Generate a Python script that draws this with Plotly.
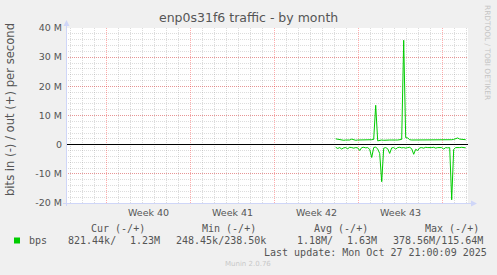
import plotly.graph_objects as go

# ---------------- data ----------------
title_text = "enp0s31f6 traffic - by month"
y_title = "bits in (-) / out (+) per second"

# samples every 4 hours, starting at day 22.45 of the 33.3-day window
start_day = 22.45
step_hours = 4

out_mbps = [2.0, 1.9, 1.6, 1.6, 1.5, 1.6, 1.5, 1.6, 1.9, 1.6,
            1.5, 1.6, 1.6, 1.5, 1.6, 1.5, 1.6, 1.6, 1.7, 1.8,
            13.5, 1.3, 1.5, 1.6, 1.5, 1.6, 1.5, 1.6, 1.6, 1.5,
            1.6, 1.6, 1.7, 1.8, 35.8, 2.4, 2.3, 1.7, 1.6, 1.6,
            1.5, 1.6, 1.6, 1.5, 1.6, 1.5, 1.6, 1.6, 1.5, 1.6,
            1.6, 1.5, 1.6, 1.6, 1.5, 1.6, 1.6, 1.6, 1.7, 1.8,
            2.0, 2.3, 1.9, 1.8, 1.7, 1.7]

in_mbps = [-0.9, -1.3, -1.0, -1.5, -1.1, -1.0, -1.4, -0.9, -1.0, -1.2,
           -1.0, -1.1, -2.0, -1.0, -0.9, -1.1, -1.0, -1.6, -4.4, -1.0,
           -0.8, -1.5, -3.0, -12.7, -1.2, -1.0, -1.4, -3.0, -1.1, -1.0,
           -1.5, -1.0, -0.9, -1.1, -1.0, -1.2, -1.0, -0.9, -1.4, -3.3,
           -1.6, -2.0, -1.1, -1.0, -1.2, -0.9, -1.0, -1.1, -1.0, -0.9,
           -1.2, -1.0, -1.1, -1.0, -1.5, -1.0, -1.1, -1.0, -18.9, -1.6,
           -1.0, -1.1, -1.0, -0.9, -1.0, -1.1]

y_tick_vals = [-20, -10, 0, 10, 20, 30, 40]
y_tick_text = ["-20 M", "-10 M", "0", "10 M", "20 M", "30 M", "40 M"]

week_labels = ["Week 40", "Week 41", "Week 42", "Week 43"]
week_label_centers = [6.83, 13.83, 20.83, 27.83]   # day positions (mid-week)
first_week_line = 3.333

legend_headers = ["Cur (-/+)", "Min (-/+)", "Avg (-/+)", "Max (-/+)"]
legend_name = "bps"
legend_values = ["821.44k/", "1.23M", "248.45k/238.50k", "1.18M/", "1.63M", "378.56M/115.64M"]
last_update = "Last update: Mon Oct 27 21:00:09 2025"
munin_version = "Munin 2.0.76"
watermark = "RRDTOOL / TOBI OETIKER"

# ---------------- layout constants ----------------
W, H = 497, 275
L, R, T, B = 66, 468, 28, 203   # plot area in pixels
PW, PH = R - L, B - T

def px(x):
    return (x - L) / PW

def py(y):
    return (B - y) / PH

GREEN = "#00CC00"
FONT = "#555555"
AXIS = "#CFD6F8"
SANS = "DejaVu Sans"
MONO = "DejaVu Sans Mono"
MAJOR = "rgba(255,0,0,0.32)"
MINOR = "rgba(128,128,128,0.28)"

x_days = [start_day + i * step_hours / 24 for i in range(len(out_mbps))]

fig = go.Figure()
fig.add_trace(go.Scatter(x=x_days, y=in_mbps, mode="lines",
                         line=dict(color=GREEN, width=1), hoverinfo="skip"))
fig.add_trace(go.Scatter(x=x_days, y=out_mbps, mode="lines",
                         line=dict(color=GREEN, width=1), hoverinfo="skip"))

fig.update_layout(
    width=W, height=H,
    margin=dict(l=L, r=W - R, t=T, b=H - B, pad=0),
    paper_bgcolor="#F0F0F0", plot_bgcolor="#FFFFFF",
    showlegend=False,
    font=dict(family=SANS, color=FONT, size=10),
)

fig.update_xaxes(
    range=[(L - 66.3) / 12, (R - 66.3) / 12],
    showticklabels=False, ticks="", showline=False, zeroline=False,
    tick0=first_week_line, dtick=7,
    showgrid=True, gridcolor=MAJOR, griddash="1px,1px", gridwidth=1,
    minor=dict(tick0=first_week_line, dtick=1, showgrid=True,
               gridcolor=MINOR, griddash="1px,1px", gridwidth=1),
)
fig.update_yaxes(
    range=[-20, 40],
    tickvals=y_tick_vals, ticktext=y_tick_text, ticks="",
    tickfont=dict(family=SANS, size=9.5, color=FONT),
    ticklabelstandoff=3,
    showline=False,
    showgrid=True, gridcolor=MAJOR, griddash="1px,1px", gridwidth=1,
    minor=dict(dtick=2, tick0=0, showgrid=True,
               gridcolor=MINOR, griddash="1px,1px", gridwidth=1),
    zeroline=True, zerolinecolor="#000000", zerolinewidth=1,
)

shapes = []
# axes lines with arrows
shapes.append(dict(type="line", xref="paper", yref="paper",
                   x0=px(66.5), x1=px(66.5), y0=py(206), y1=py(24),
                   line=dict(color=AXIS, width=1)))
shapes.append(dict(type="line", xref="paper", yref="paper",
                   x0=px(63), x1=px(472), y0=py(203.5), y1=py(203.5),
                   line=dict(color=AXIS, width=1)))
shapes.append(dict(type="path", xref="paper", yref="paper",
                   path=f"M {px(63.5)},{py(26)} L {px(69.5)},{py(26)} L {px(66.5)},{py(20)} Z",
                   fillcolor=AXIS, line=dict(color=AXIS, width=0)))
shapes.append(dict(type="path", xref="paper", yref="paper",
                   path=f"M {px(471)},{py(200.5)} L {px(471)},{py(206.5)} L {px(477)},{py(203.5)} Z",
                   fillcolor=AXIS, line=dict(color=AXIS, width=0)))
# legend swatch
shapes.append(dict(type="rect", xref="paper", yref="paper",
                   x0=px(14), x1=px(20), y0=py(243.5), y1=py(237.5),
                   fillcolor=GREEN, line=dict(width=0)))
fig.update_layout(shapes=shapes)

ann = []
def text(x, y, s, size=10, family=SANS, color=FONT, xanchor="center", angle=0):
    ann.append(dict(x=px(x), y=py(y), xref="paper", yref="paper", text=s,
                    showarrow=False, xanchor=xanchor, yanchor="middle",
                    textangle=angle, font=dict(family=family, size=size, color=color)))

text(248, 18, title_text, size=12.5)
text(10, 110, y_title, size=11.6, angle=-90)
text(488, 52, watermark, size=7.4, color="#C4C4C4", angle=90)
for lbl, c in zip(week_labels, week_label_centers):
    text(66.3 + c * 12, 212, lbl, size=9.5)

hdr_x = [89, 200, 312, 423]
for s, x in zip(legend_headers, hdr_x):
    text(x, 228, s, family=MONO, xanchor="left")
text(27, 240, legend_name, family=MONO, xanchor="left")
val_x = [66, 128, 174, 295, 345, 391]
for s, x in zip(legend_values, val_x):
    text(x, 240, s, family=MONO, xanchor="left")
text(262, 252, last_update, family=MONO, xanchor="left")
text(248, 264, munin_version, size=7, color="#C8C8C8")

fig.update_layout(annotations=ann)
fig.write_html("out.html")
